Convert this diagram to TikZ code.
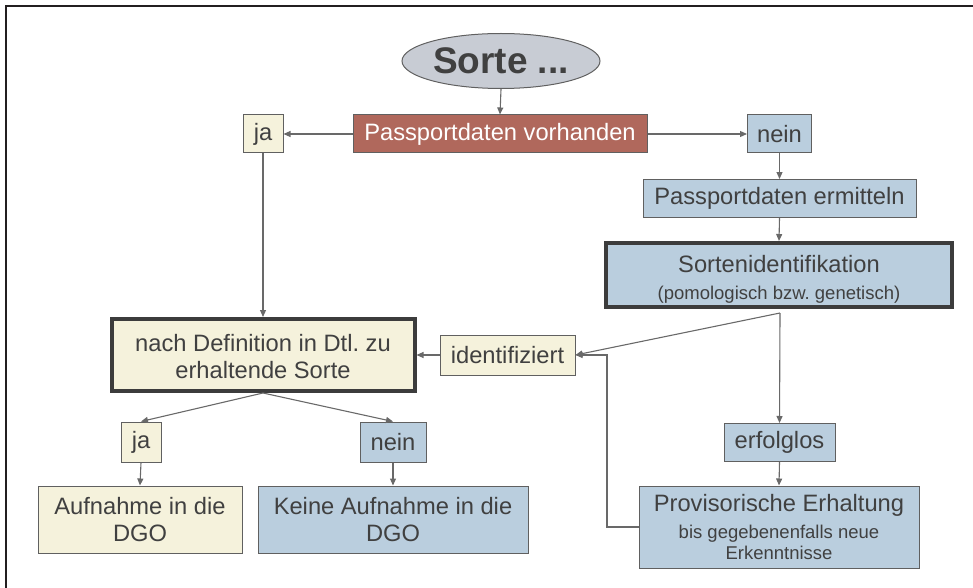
\documentclass[tikz,border=0pt]{standalone}
\usepackage{fontspec}
\setmainfont{Liberation Sans}
\usetikzlibrary{shapes.geometric,arrows.meta}
\frenchspacing
\definecolor{cream}{RGB}{245,242,220}
\definecolor{lblue}{RGB}{186,206,222}
\definecolor{brick}{RGB}{176,104,92}
\definecolor{elgrey}{RGB}{200,204,212}
\definecolor{txt}{RGB}{64,64,64}
\definecolor{bord}{RGB}{96,96,96}
\definecolor{thickb}{RGB}{60,60,60}
\definecolor{conn}{RGB}{105,105,105}
\definecolor{frame}{RGB}{35,31,32}
\newcommand{\bigtxt}{\fontsize{23.7}{27}\selectfont}
\newcommand{\smalltxt}{\fontsize{18.5}{20.5}\selectfont}
\tikzset{
  box/.style={draw=bord, line width=1pt, text=txt, align=center, inner sep=0pt, font=\bigtxt},
  creambox/.style={box, fill=cream},
  bluebox/.style={box, fill=lblue},
  thickbox/.style={line width=4pt, draw=thickb},
  conn/.style={draw=conn, line width=1.1pt, -{Triangle[length=7pt,width=6pt]}},
  plain/.style={draw=conn, line width=1.1pt}
}
\begin{document}
\begin{tikzpicture}[x=1pt,y=-1pt]
\useasboundingbox (0,0) rectangle (973,588);
\draw[frame, line width=2.5pt] (6,588) -- (6,6) -- (973,6);

\node[ellipse, draw=bord, line width=1pt, fill=elgrey, text=txt, inner sep=0pt,
      minimum width=198pt, minimum height=55pt, font=\fontsize{37}{40}\selectfont\bfseries]
      (sorte) at (501,61) {Sorte ...};
\node[box, fill=brick, text=white, minimum width=294pt, minimum height=38pt] (pv) at (500,134) {Passportdaten vorhanden};
\node[creambox, minimum width=40pt, minimum height=38pt] (ja1) at (263,134) {ja};
\node[bluebox, minimum width=64pt, minimum height=38pt] (nein1) at (779.5,134) {nein};
\node[bluebox, minimum width=273pt, minimum height=38pt] (erm) at (779.5,198.5) {Passportdaten ermitteln};
\node[bluebox, thickbox, minimum width=346pt, minimum height=64pt] (sid) at (779,275)
  {\rule{0pt}{25.5pt}Sortenidentifikation\\[0pt]\smalltxt (pomologisch bzw. genetisch)};
\node[creambox, thickbox, minimum width=303pt, minimum height=72pt] (nd) at (263,355)
  {\rule{0pt}{21pt}nach Definition in Dtl. zu\\erhaltende Sorte};
\node[creambox, minimum width=135pt, minimum height=40pt] (ident) at (507.5,355) {identifiziert};
\node[creambox, minimum width=40pt, minimum height=40pt] (ja2) at (141,442) {ja};
\node[bluebox, minimum width=66pt, minimum height=40pt] (nein2) at (393,442) {nein};
\node[creambox, minimum width=204pt, minimum height=67pt] (auf) at (140,519.5) {Aufnahme in die\\DGO};
\node[bluebox, minimum width=270pt, minimum height=67pt] (keine) at (393,519.5) {Keine Aufnahme in die\\DGO};
\node[bluebox, minimum width=111pt, minimum height=38pt] (erf) at (779.5,442.5) {erfolglos};
\node[bluebox, minimum width=280pt, minimum height=82pt] (prov) at (779,527)
  {Provisorische Erhaltung\\[0pt]\smalltxt bis gegebenenfalls neue\\[-6.5pt]\smalltxt Erkenntnisse};

\coordinate (corner1) at (607,527);
\coordinate (corner2) at (607,355);
\coordinate (sidout) at (780,313);

\draw[conn] (sorte.south) -- (pv.north);
\draw[conn] (pv.west) -- (ja1.east);
\draw[conn] (pv.east) -- (nein1.west);
\draw[conn] (nein1.south) -- (erm.north);
\draw[conn] (erm.south) -- (sid.north);
\draw[conn] (ja1.south) -- (nd.north);
\draw[conn] (sidout) -- (ident.east);
\draw[conn] (sidout) -- (erf.north);
\draw[conn] (erf.south) -- (prov.north);
\draw[conn] (prov.west) -- (corner1) -- (corner2) -- (ident.east);
\draw[conn] (ident.west) -- (nd.east);
\draw[conn] (nd.south) -- (ja2.north);
\draw[conn] (nd.south) -- (nein2.north);
\draw[conn] (ja2.south) -- (auf.north);
\draw[conn] (nein2.south) -- (keine.north);
\end{tikzpicture}
\end{document}
